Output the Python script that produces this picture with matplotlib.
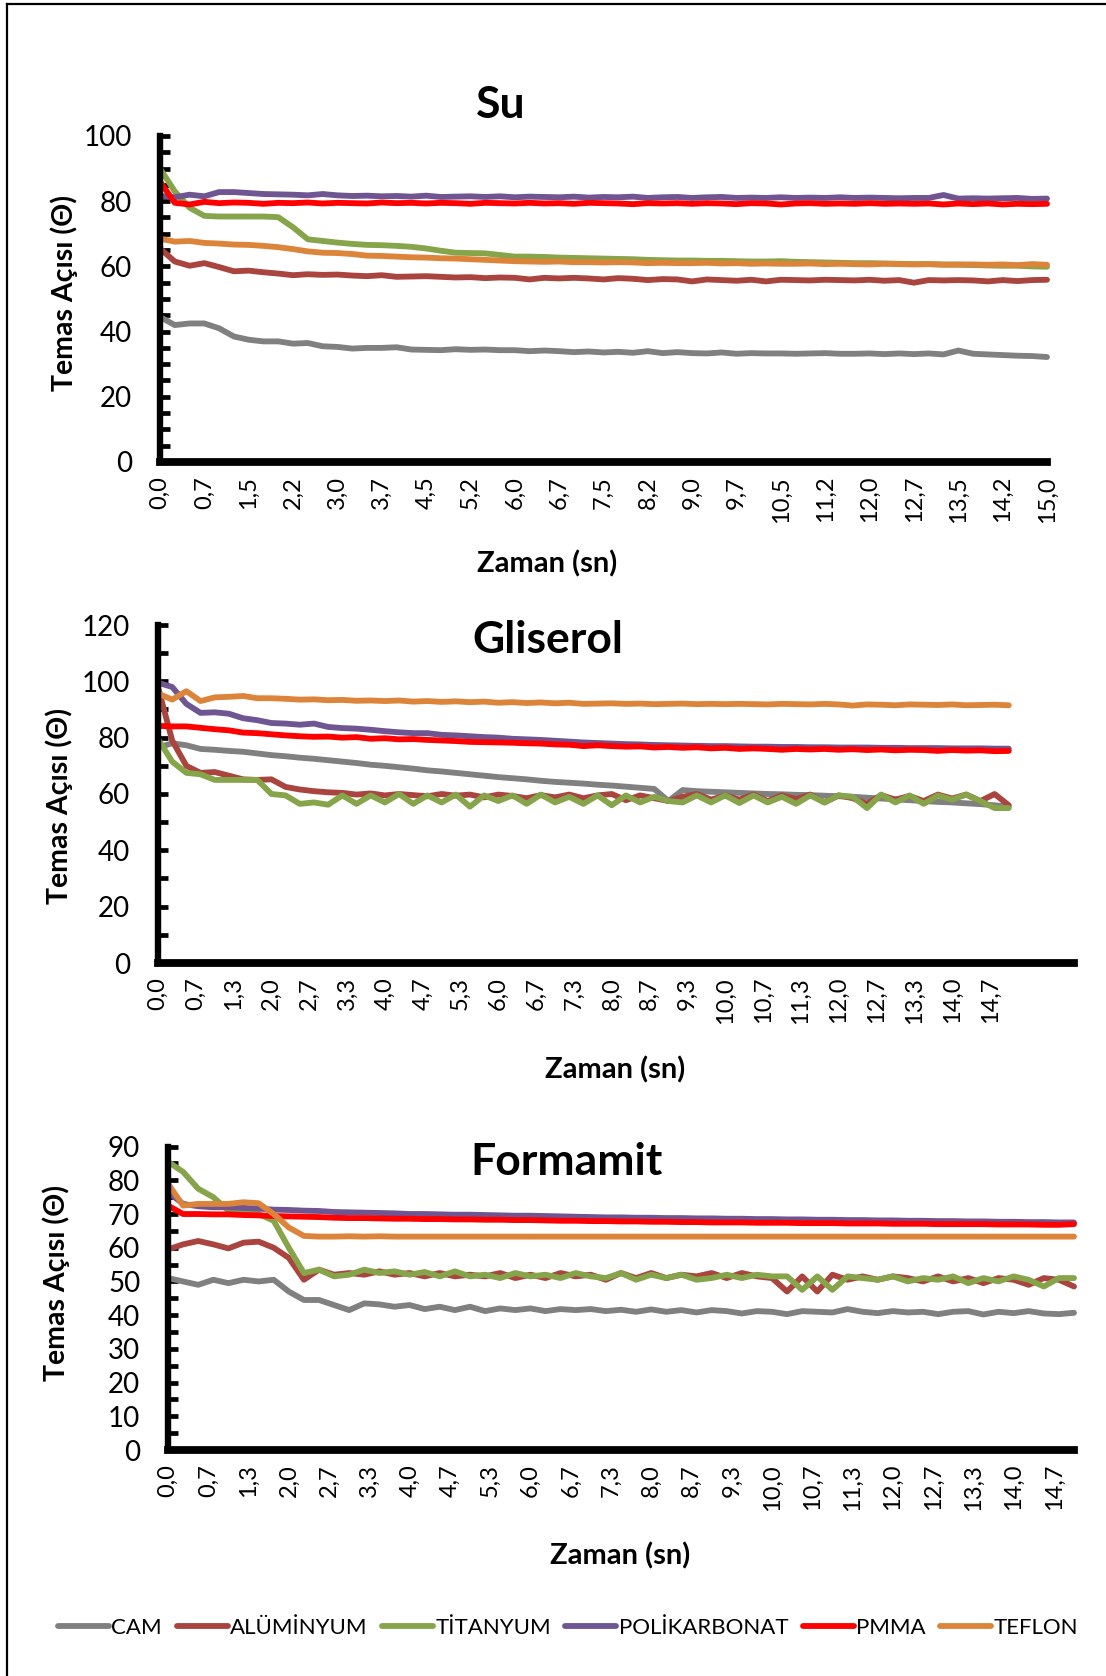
import numpy as np
import matplotlib
matplotlib.use("Agg")
import matplotlib.pyplot as plt
from matplotlib.lines import Line2D
from matplotlib.ticker import MultipleLocator

plt.rcParams['font.family'] = ['Lato', 'DejaVu Sans']

# ---------------- data ----------------
series_names = ["CAM", "ALÜMİNYUM", "TİTANYUM", "POLİKARBONAT", "PMMA", "TEFLON"]
series_colors = ["#808080", "#A9443F", "#86A44A", "#6F5592", "#FF0000", "#DD843B"]

# Su (water), 0-15 s
su_cam = [44.5, 42.0, 42.5, 42.5, 41.0, 38.5, 37.5, 37.0, 37.0, 36.3, 36.5, 35.5, 35.3, 34.8, 35.0, 35.0,
          35.2, 34.5, 34.4, 34.3, 34.6, 34.4, 34.5, 34.3, 34.3, 34.0, 34.2, 34.0, 33.7, 33.9, 33.6, 33.8,
          33.5, 34.0, 33.4, 33.7, 33.4, 33.3, 33.6, 33.2, 33.4, 33.3, 33.3, 33.2, 33.3, 33.4, 33.2, 33.2,
          33.3, 33.1, 33.3, 33.1, 33.3, 33.0, 34.2, 33.2, 33.0, 32.8, 32.6, 32.5, 32.2]
su_aluminyum = [65.5, 61.5, 60.2, 61.0, 59.8, 58.5, 58.7, 58.2, 57.8, 57.3, 57.6, 57.4, 57.5, 57.2, 57.0, 57.3,
                56.8, 56.9, 57.0, 56.8, 56.6, 56.7, 56.4, 56.6, 56.5, 56.0, 56.5, 56.3, 56.5, 56.3, 56.0, 56.4,
                56.2, 55.8, 56.1, 56.0, 55.4, 56.0, 55.8, 55.6, 55.9, 55.4, 55.9, 55.8, 55.7, 55.9, 55.8, 55.7,
                55.9, 55.6, 55.8, 55.0, 55.8, 55.7, 55.8, 55.7, 55.4, 55.8, 55.5, 55.8, 55.9]
su_titanyum = [90.0, 83.0, 78.0, 75.5, 75.3, 75.3, 75.3, 75.3, 75.1, 72.0, 68.3, 67.8, 67.3, 66.9, 66.6, 66.5,
               66.3, 66.0, 65.5, 64.8, 64.2, 64.1, 64.0, 63.5, 63.0, 63.0, 62.9, 62.7, 62.6, 62.5, 62.4, 62.3,
               62.2, 62.0, 61.9, 61.8, 61.8, 61.7, 61.7, 61.6, 61.5, 61.5, 61.6, 61.4, 61.3, 61.2, 61.1, 61.0,
               61.0, 60.9, 60.8, 60.7, 60.7, 60.6, 60.5, 60.4, 60.3, 60.2, 60.2, 60.0, 59.9]
su_polikarbonat = [81.6, 81.2, 82.0, 81.5, 82.8, 82.8, 82.5, 82.2, 82.1, 82.0, 81.8, 82.2, 81.8, 81.6, 81.7, 81.5,
                   81.6, 81.4, 81.7, 81.3, 81.4, 81.5, 81.3, 81.5, 81.2, 81.4, 81.3, 81.2, 81.4, 81.1, 81.3, 81.2,
                   81.4, 81.0, 81.2, 81.3, 81.0, 81.2, 81.3, 81.0, 81.1, 81.0, 81.2, 81.0, 81.1, 81.0, 81.2, 81.0,
                   81.1, 81.0, 80.9, 81.0, 81.0, 81.9, 80.8, 80.9, 80.8, 80.9, 81.0, 80.7, 80.8]
su_pmma = [86.0, 79.5, 79.0, 79.8, 79.4, 79.6, 79.5, 79.2, 79.5, 79.4, 79.6, 79.3, 79.5, 79.4, 79.3, 79.6,
           79.4, 79.5, 79.3, 79.5, 79.4, 79.2, 79.5, 79.4, 79.3, 79.5, 79.3, 79.4, 79.2, 79.5, 79.4, 79.3,
           79.1, 79.4, 79.3, 79.4, 79.2, 79.4, 79.3, 79.1, 79.4, 79.3, 79.0, 79.3, 79.4, 79.2, 79.3, 79.2,
           79.4, 79.2, 79.3, 79.2, 79.3, 79.0, 79.3, 79.1, 79.3, 79.0, 79.2, 79.1, 79.2]
su_teflon = [68.5, 67.6, 67.8, 67.2, 67.0, 66.7, 66.6, 66.3, 65.9, 65.3, 64.6, 64.2, 64.1, 63.8, 63.3, 63.2,
             63.0, 62.8, 62.7, 62.5, 62.4, 62.2, 62.0, 61.8, 61.6, 61.5, 61.4, 61.5, 61.3, 61.3, 61.2, 61.3,
             61.2, 61.0, 61.1, 61.0, 61.0, 61.1, 60.9, 61.0, 60.8, 60.9, 60.8, 60.8, 60.9, 60.7, 60.8, 60.7,
             60.6, 60.8, 60.7, 60.6, 60.7, 60.5, 60.6, 60.6, 60.5, 60.6, 60.4, 60.7, 60.5]

# Gliserol, 0-15 s
gl_cam = [76.5, 78.0, 77.3, 76.0, 75.7, 75.3, 75.0, 74.4, 73.8, 73.4, 72.9, 72.5, 72.0, 71.5, 71.0, 70.4,
          70.0, 69.5, 69.0, 68.4, 68.0, 67.5, 67.0, 66.5, 66.0, 65.6, 65.2, 64.7, 64.3, 64.0, 63.7, 63.3,
          63.0, 62.6, 62.2, 61.8, 57.5, 61.4, 61.0, 60.8, 60.6, 60.4, 60.2, 60.0, 59.9, 59.7, 59.6, 59.4,
          59.2, 59.0, 58.7, 58.4, 58.1, 57.8, 57.5, 57.2, 57.0, 56.7, 56.4, 56.0, 55.5]
gl_aluminyum = [98.0, 79.0, 70.0, 67.5, 67.8, 66.5, 65.2, 65.0, 65.2, 62.5, 61.6, 61.0, 60.6, 60.4, 59.8, 60.2,
                59.5, 60.0, 59.6, 59.2, 60.0, 59.4, 59.8, 58.8, 59.8, 59.3, 58.5, 59.6, 58.8, 59.8, 58.5, 59.5,
                60.0, 57.8, 59.5, 58.5, 57.5, 59.0, 60.0, 58.0, 59.5, 58.0, 59.8, 57.5, 59.5, 58.2, 59.8, 57.0,
                59.5, 58.5, 56.5, 59.6, 58.0, 59.3, 57.5, 59.8, 58.4, 59.8, 57.5, 60.0, 56.0]
gl_titanyum = [79.5, 71.5, 67.5, 67.0, 65.0, 65.0, 65.0, 65.0, 60.0, 59.5, 56.5, 57.0, 56.2, 59.5, 56.5, 59.5,
               57.0, 60.0, 56.5, 59.5, 57.0, 59.8, 55.5, 59.5, 57.5, 59.5, 56.5, 59.8, 57.0, 59.0, 56.5, 59.5,
               56.0, 59.5, 57.0, 59.0, 57.5, 57.0, 59.5, 57.0, 59.5, 56.8, 59.5, 57.0, 59.0, 56.5, 59.5, 57.0,
               59.5, 59.0, 55.0, 59.8, 57.0, 59.5, 56.5, 59.5, 58.0, 59.8, 57.5, 55.0, 55.0]
gl_polikarbonat = [99.5, 98.0, 92.0, 88.8, 89.0, 88.5, 86.9, 86.2, 85.2, 85.0, 84.6, 85.0, 83.8, 83.4, 83.2, 82.8,
                   82.3, 81.9, 81.6, 81.6, 81.0, 80.8, 80.5, 80.2, 80.0, 79.6, 79.4, 79.2, 78.9, 78.6, 78.3, 78.1,
                   77.9, 77.7, 77.6, 77.4, 77.3, 77.2, 77.1, 77.0, 77.0, 76.9, 76.8, 76.8, 76.7, 76.7, 76.6, 76.6,
                   76.5, 76.5, 76.5, 76.4, 76.4, 76.3, 76.3, 76.3, 76.2, 76.2, 76.2, 76.1, 76.1]
gl_pmma = [84.2, 84.0, 84.0, 83.5, 83.0, 82.6, 81.8, 81.6, 81.2, 80.8, 80.5, 80.3, 80.4, 80.0, 80.2, 79.6,
           79.8, 79.4, 79.5, 79.2, 79.0, 78.8, 78.5, 78.4, 78.3, 78.2, 78.0, 77.9, 77.6, 77.5, 77.0, 77.3,
           77.0, 76.8, 76.9, 76.5, 76.7, 76.4, 76.6, 76.2, 76.4, 76.0, 76.2, 76.0, 75.7, 76.0, 75.8, 76.0,
           75.7, 75.9, 75.6, 75.8, 75.5, 75.7, 75.6, 75.3, 75.6, 75.4, 75.5, 75.2, 75.3]
gl_teflon = [95.7, 93.5, 96.5, 93.0, 94.3, 94.5, 94.8, 94.0, 94.0, 93.8, 93.5, 93.6, 93.3, 93.4, 93.1, 93.2,
             93.0, 93.2, 92.8, 93.0, 92.7, 92.9, 92.6, 92.8, 92.4, 92.6, 92.3, 92.5, 92.2, 92.4, 92.0, 92.1,
             92.2, 92.0, 92.1, 91.9, 92.0, 92.1, 91.9, 92.0, 91.9, 92.0, 91.9, 91.8, 92.0, 91.9, 91.8, 92.0,
             91.8, 91.4, 91.8, 91.7, 91.5, 91.8, 91.7, 91.6, 91.8, 91.5, 91.6, 91.7, 91.5]

# Formamit, 0-15 s
fo_cam = [51.0, 50.0, 49.0, 50.5, 49.5, 50.5, 50.0, 50.5, 47.0, 44.5, 44.5, 43.0, 41.5, 43.5, 43.2, 42.5,
          43.0, 41.8, 42.5, 41.5, 42.5, 41.2, 42.0, 41.5, 42.0, 41.2, 41.8, 41.5, 41.8, 41.2, 41.6, 41.0,
          41.7, 41.0, 41.5, 40.8, 41.5, 41.2, 40.5, 41.2, 41.0, 40.3, 41.2, 41.0, 40.8, 41.8, 41.0, 40.6,
          41.2, 40.8, 41.0, 40.3, 41.0, 41.2, 40.2, 41.0, 40.6, 41.2, 40.5, 40.3, 40.7]
fo_aluminyum = [59.5, 61.0, 62.0, 61.0, 59.8, 61.5, 61.8, 60.0, 57.0, 50.5, 53.5, 52.0, 52.5, 52.0, 53.0, 52.0,
                52.5, 51.5, 52.5, 51.5, 52.0, 51.5, 52.5, 51.0, 52.0, 51.0, 52.5, 51.5, 52.0, 50.5, 52.5, 51.0,
                52.5, 51.0, 52.0, 51.5, 52.5, 51.0, 52.5, 51.5, 51.0, 47.0, 51.5, 47.0, 52.0, 50.5, 51.5, 50.5,
                51.5, 51.0, 50.0, 51.5, 50.0, 51.0, 49.5, 51.0, 50.5, 49.0, 51.0, 50.5, 48.5]
fo_titanyum = [85.5, 82.5, 77.5, 75.0, 71.0, 71.0, 70.0, 68.0, 60.0, 52.5, 53.5, 51.5, 52.0, 53.5, 52.5, 53.0,
               52.0, 52.8, 51.5, 53.0, 51.5, 52.0, 51.0, 52.5, 51.5, 52.0, 51.0, 52.5, 51.5, 51.0, 52.5, 50.5,
               52.0, 51.0, 52.0, 50.5, 51.0, 52.0, 51.0, 52.0, 51.5, 51.5, 47.5, 51.5, 47.5, 51.5, 51.0, 50.5,
               51.5, 50.0, 51.0, 50.5, 51.5, 49.5, 51.0, 50.0, 51.5, 50.5, 48.5, 51.0, 51.0]
fo_polikarbonat = [76.5, 73.0, 72.3, 72.0, 72.0, 71.8, 71.6, 71.3, 71.2, 71.0, 70.9, 70.6, 70.5, 70.4, 70.3, 70.2,
                   70.0, 70.0, 69.9, 69.8, 69.8, 69.7, 69.6, 69.5, 69.5, 69.4, 69.3, 69.2, 69.1, 69.0, 69.0, 68.9,
                   68.9, 68.8, 68.8, 68.7, 68.7, 68.6, 68.6, 68.5, 68.5, 68.4, 68.4, 68.3, 68.3, 68.2, 68.2, 68.1,
                   68.1, 68.0, 68.0, 67.9, 67.9, 67.8, 67.8, 67.7, 67.7, 67.6, 67.6, 67.5, 67.5]
fo_pmma = [72.5, 70.0, 70.0, 69.9, 69.9, 69.7, 69.6, 69.4, 69.3, 69.2, 69.1, 68.9, 68.8, 68.8, 68.7, 68.6,
           68.6, 68.5, 68.5, 68.4, 68.4, 68.3, 68.3, 68.2, 68.2, 68.1, 68.0, 68.0, 67.9, 67.9, 67.8, 67.8,
           67.7, 67.7, 67.6, 67.6, 67.5, 67.5, 67.5, 67.4, 67.4, 67.4, 67.3, 67.3, 67.3, 67.2, 67.2, 67.2,
           67.1, 67.1, 67.1, 67.0, 67.0, 67.0, 67.0, 66.9, 66.9, 66.9, 66.8, 66.8, 67.0]
fo_teflon = [79.0, 72.5, 73.0, 73.0, 73.0, 73.5, 73.2, 70.0, 66.0, 63.5, 63.3, 63.3, 63.4, 63.3, 63.4, 63.3,
             63.3, 63.3, 63.3, 63.3, 63.3, 63.3, 63.3, 63.3, 63.3, 63.3, 63.3, 63.3, 63.3, 63.3, 63.3, 63.3,
             63.3, 63.3, 63.3, 63.3, 63.3, 63.3, 63.3, 63.3, 63.3, 63.3, 63.3, 63.3, 63.3, 63.3, 63.3, 63.3,
             63.3, 63.3, 63.3, 63.3, 63.3, 63.3, 63.3, 63.3, 63.3, 63.3, 63.3, 63.3, 63.3]

su_tick_labels = ["0,0", "0,7", "1,5", "2,2", "3,0", "3,7", "4,5", "5,2", "6,0", "6,7", "7,5",
                  "8,2", "9,0", "9,7", "10,5", "11,2", "12,0", "12,7", "13,5", "14,2", "15,0"]
gf_tick_labels = ["0,0", "0,7", "1,3", "2,0", "2,7", "3,3", "4,0", "4,7", "5,3", "6,0", "6,7", "7,3",
                  "8,0", "8,7", "9,3", "10,0", "10,7", "11,3", "12,0", "12,7", "13,3", "14,0", "14,7"]

# ---------------- figure ----------------
W, H = 1106, 1676
fig = plt.figure(figsize=(W / 100, H / 100), dpi=100)

# page frame (top and left edges)
fig.add_artist(Line2D([7 / W, 7 / W], [0, 1 - 4 / H], color="black", lw=1.6))
fig.add_artist(Line2D([7 / W, 1], [1 - 4 / H, 1 - 4 / H], color="black", lw=1.6))


def make_panel(rect, datasets, ymax, ymajor, yminor, xmax, tick_step, tick_labels,
               title, title_xy, xlabel_xy, ylabel_xy):
    ax = fig.add_axes(rect)
    for vals, name, col in zip(datasets, series_names, series_colors):
        t = np.linspace(0, 15, len(vals))
        ax.plot(t, vals, color=col, lw=4.2, label=name, solid_capstyle="round",
                solid_joinstyle="round", clip_on=False)
    ax.set_xlim(0, xmax)
    ax.set_ylim(0, ymax)
    ax.yaxis.set_major_locator(MultipleLocator(ymajor))
    ax.yaxis.set_minor_locator(MultipleLocator(yminor))
    ax.set_xticks(np.arange(len(tick_labels)) * tick_step)
    ax.set_xticklabels(tick_labels, rotation=90)
    for s in ("top", "right"):
        ax.spines[s].set_visible(False)
    ax.spines["left"].set_linewidth(4.6)
    ax.spines["bottom"].set_linewidth(5.6)
    ax.spines["left"].set_capstyle("projecting")
    ax.tick_params(axis="y", which="both", direction="in", length=7, width=3.4,
                   labelsize=20, pad=20)
    ax.tick_params(axis="x", length=0, labelsize=17, pad=10)
    fig.text(title_xy[0] / W, 1 - title_xy[1] / H, title, fontsize=32, fontweight="bold",
             ha="center", va="center")
    fig.text(xlabel_xy[0] / W, 1 - xlabel_xy[1] / H, "Zaman (sn)", fontsize=21,
             fontweight="bold", ha="center", va="center")
    fig.text(ylabel_xy[0] / W, 1 - ylabel_xy[1] / H, "Temas Açısı (Θ)", fontsize=20.5,
             fontweight="bold", ha="center", va="center", rotation=90)
    return ax


ax1 = make_panel([160 / W, 1 - 462 / H, 887 / W, 326 / H],
                 [su_cam, su_aluminyum, su_titanyum, su_polikarbonat, su_pmma, su_teflon],
                 100, 20, 5, 15.0, 0.75, su_tick_labels,
                 "Su", (501, 105), (547, 564), (64, 293))
ax2 = make_panel([158 / W, 1 - 963 / H, 916 / W, 338 / H],
                 [gl_cam, gl_aluminyum, gl_titanyum, gl_polikarbonat, gl_pmma, gl_teflon],
                 120, 20, 10, 16.15, 2 / 3, gf_tick_labels,
                 "Gliserol", (548, 640), (615, 1070), (59, 806))
ax3 = make_panel([168 / W, 1 - 1450 / H, 906 / W, 303.4 / H],
                 [fo_cam, fo_aluminyum, fo_titanyum, fo_polikarbonat, fo_pmma, fo_teflon],
                 90, 10, 5, 15.0, 2 / 3, gf_tick_labels,
                 "Formamit", (567, 1162), (620, 1556), (56, 1283))

handles, labels = ax1.get_legend_handles_labels()
fig.legend(handles, labels, loc="center", bbox_to_anchor=(568 / W, 1 - 1628 / H), ncol=6,
           frameon=False, fontsize=16, handlelength=2.3, handletextpad=0.1,
           columnspacing=0.65, borderaxespad=0)

fig.savefig("out.png", dpi=100)
